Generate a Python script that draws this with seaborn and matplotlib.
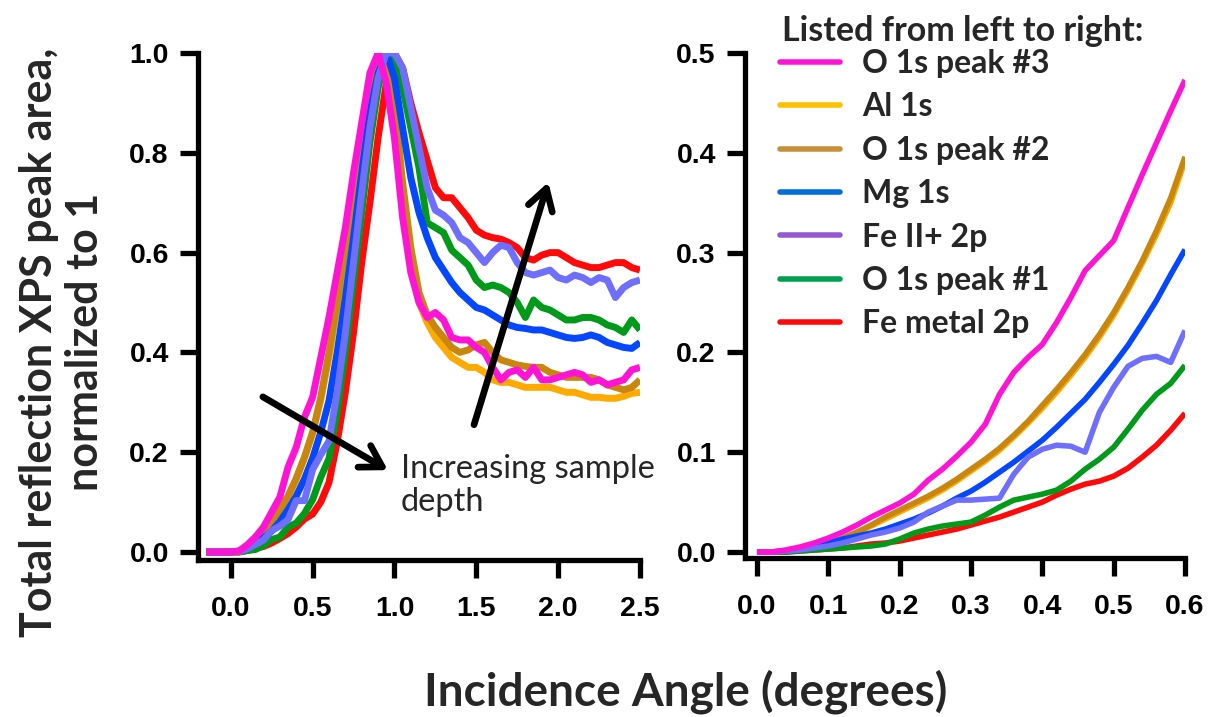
import numpy as np
import pandas as pd
import matplotlib
matplotlib.use("Agg")
import matplotlib.pyplot as plt
from matplotlib.lines import Line2D
from matplotlib.font_manager import FontProperties
import seaborn as sns

# ---------------------------------------------------------------------------
# Data: normalised total-reflection XPS peak areas vs incidence angle
# ---------------------------------------------------------------------------
series = ["O 1s peak #3", "Al 1s", "O 1s peak #2", "Mg 1s",
          "Fe II+ 2p", "O 1s peak #1", "Fe metal 2p"]

# full angular scan (degrees)
angle_full = np.round(np.linspace(-0.15, 2.50, 54), 2)

full_o1s3 = [0, 0, 0, 0, 0.002, 0.014, 0.03, 0.05, 0.08, 0.11, 0.17, 0.21, 0.27, 0.31,
             0.39, 0.47, 0.56, 0.65, 0.76, 0.86, 0.96, 1.0, 0.94, 0.83, 0.67, 0.56, 0.50,
             0.47, 0.48, 0.465, 0.43, 0.425, 0.425, 0.41, 0.40, 0.37, 0.345, 0.36, 0.365,
             0.35, 0.37, 0.345, 0.345, 0.35, 0.355, 0.36, 0.355, 0.34, 0.345, 0.335, 0.34,
             0.345, 0.365, 0.37]
full_al1s = [0, 0, 0, 0, 0.001, 0.009, 0.023, 0.041, 0.059, 0.082, 0.110, 0.145, 0.188,
             0.237, 0.305, 0.39, 0.49, 0.60, 0.71, 0.82, 0.93, 0.99, 1.0, 0.88, 0.72, 0.59,
             0.50, 0.46, 0.43, 0.41, 0.39, 0.38, 0.37, 0.37, 0.36, 0.345, 0.34, 0.34, 0.335,
             0.33, 0.33, 0.33, 0.33, 0.325, 0.32, 0.32, 0.315, 0.31, 0.31, 0.308, 0.308,
             0.312, 0.318, 0.32]
full_o1s2 = [0, 0, 0, 0, 0.001, 0.009, 0.024, 0.043, 0.061, 0.084, 0.112, 0.148, 0.19,
             0.24, 0.31, 0.40, 0.50, 0.61, 0.72, 0.83, 0.93, 0.99, 1.0, 0.90, 0.74, 0.61,
             0.52, 0.475, 0.45, 0.43, 0.41, 0.40, 0.405, 0.415, 0.42, 0.40, 0.385, 0.38,
             0.375, 0.372, 0.37, 0.37, 0.36, 0.355, 0.35, 0.35, 0.35, 0.35, 0.345, 0.335,
             0.33, 0.325, 0.33, 0.345]
full_mg1s = [0, 0, 0, 0, 0.002, 0.009, 0.018, 0.028, 0.042, 0.061, 0.085, 0.112, 0.146,
             0.188, 0.24, 0.303, 0.40, 0.51, 0.63, 0.76, 0.88, 0.96, 1.0, 0.95, 0.85, 0.75,
             0.68, 0.63, 0.59, 0.565, 0.54, 0.52, 0.505, 0.49, 0.485, 0.475, 0.465, 0.455,
             0.45, 0.448, 0.445, 0.445, 0.44, 0.435, 0.43, 0.428, 0.43, 0.435, 0.43, 0.42,
             0.415, 0.41, 0.408, 0.42]
full_fe2 = [0, 0, 0, 0, 0.001, 0.006, 0.015, 0.024, 0.043, 0.052, 0.065, 0.103, 0.103,
            0.165, 0.195, 0.222, 0.32, 0.44, 0.58, 0.72, 0.85, 0.95, 1.0, 1.0, 0.97, 0.89,
            0.81, 0.73, 0.685, 0.675, 0.66, 0.63, 0.62, 0.60, 0.58, 0.60, 0.615, 0.61,
            0.58, 0.56, 0.555, 0.56, 0.565, 0.55, 0.545, 0.555, 0.55, 0.54, 0.55, 0.545,
            0.51, 0.53, 0.54, 0.545]
full_o1s1 = [0, 0, 0, 0, 0.0, 0.003, 0.005, 0.013, 0.025, 0.030, 0.05, 0.058, 0.077,
             0.105, 0.15, 0.187, 0.28, 0.40, 0.54, 0.68, 0.82, 0.93, 1.0, 0.98, 0.93, 0.85,
             0.77, 0.66, 0.65, 0.64, 0.605, 0.59, 0.575, 0.545, 0.53, 0.535, 0.53, 0.52,
             0.50, 0.47, 0.505, 0.49, 0.485, 0.475, 0.465, 0.465, 0.47, 0.47, 0.465, 0.455,
             0.45, 0.44, 0.465, 0.445]
full_femet = [0, 0, 0, 0, 0.0, 0.003, 0.007, 0.011, 0.018, 0.027, 0.037, 0.05, 0.066,
              0.076, 0.10, 0.139, 0.22, 0.32, 0.44, 0.58, 0.70, 0.83, 0.94, 1.0, 0.97, 0.90,
              0.84, 0.785, 0.73, 0.71, 0.71, 0.69, 0.67, 0.645, 0.635, 0.63, 0.627, 0.62,
              0.61, 0.59, 0.585, 0.595, 0.60, 0.60, 0.59, 0.58, 0.575, 0.57, 0.57, 0.575,
              0.58, 0.58, 0.57, 0.565]

# fine scan below the critical angle (degrees)
angle_fine = np.round(np.linspace(0.0, 0.60, 31), 2)

fine_o1s3 = [0.000, 0.000, 0.002, 0.005, 0.009, 0.014, 0.020, 0.027, 0.035, 0.042, 0.049,
             0.058, 0.072, 0.083, 0.096, 0.110, 0.128, 0.158, 0.180, 0.195, 0.208, 0.230,
             0.255, 0.282, 0.297, 0.312, 0.345, 0.378, 0.410, 0.442, 0.473]
fine_al1s = [0.000, 0.000, 0.001, 0.003, 0.005, 0.008, 0.013, 0.019, 0.026, 0.033, 0.040,
             0.047, 0.054, 0.062, 0.071, 0.081, 0.091, 0.102, 0.115, 0.129, 0.144, 0.160,
             0.177, 0.195, 0.215, 0.237, 0.262, 0.289, 0.318, 0.350, 0.392]
fine_o1s2 = [0.000, 0.000, 0.001, 0.003, 0.006, 0.009, 0.014, 0.020, 0.027, 0.035, 0.042,
             0.049, 0.056, 0.064, 0.073, 0.083, 0.093, 0.104, 0.117, 0.131, 0.147, 0.163,
             0.180, 0.198, 0.218, 0.240, 0.265, 0.292, 0.322, 0.355, 0.396]
fine_mg1s = [0.000, 0.000, 0.001, 0.003, 0.006, 0.009, 0.013, 0.016, 0.019, 0.023, 0.028,
             0.033, 0.039, 0.046, 0.054, 0.061, 0.070, 0.080, 0.090, 0.101, 0.112, 0.125,
             0.139, 0.153, 0.170, 0.188, 0.207, 0.229, 0.252, 0.278, 0.303]
fine_fe2 = [0.000, 0.000, 0.001, 0.002, 0.004, 0.006, 0.009, 0.013, 0.017, 0.020, 0.024,
            0.030, 0.040, 0.046, 0.052, 0.052, 0.053, 0.054, 0.078, 0.095, 0.103, 0.107,
            0.106, 0.100, 0.140, 0.165, 0.186, 0.194, 0.196, 0.190, 0.222]
fine_o1s1 = [0.000, 0.000, 0.000, 0.001, 0.002, 0.003, 0.004, 0.005, 0.006, 0.008, 0.013,
             0.019, 0.023, 0.026, 0.028, 0.030, 0.037, 0.045, 0.052, 0.055, 0.058, 0.062,
             0.071, 0.083, 0.093, 0.105, 0.123, 0.142, 0.158, 0.169, 0.187]
fine_femet = [0.000, 0.000, 0.000, 0.001, 0.002, 0.003, 0.004, 0.006, 0.008, 0.009, 0.011,
              0.014, 0.017, 0.020, 0.023, 0.027, 0.031, 0.035, 0.040, 0.045, 0.050, 0.057,
              0.063, 0.068, 0.071, 0.076, 0.084, 0.095, 0.107, 0.122, 0.139]

full_values = [full_o1s3, full_al1s, full_o1s2, full_mg1s, full_fe2, full_o1s1, full_femet]
fine_values = [fine_o1s3, fine_al1s, fine_o1s2, fine_mg1s, fine_fe2, fine_o1s1, fine_femet]

# ---------------------------------------------------------------------------
# Styling
# ---------------------------------------------------------------------------
line_colors = {
    "O 1s peak #3": "#FF14D6",
    "Al 1s": "#FFAA00",
    "O 1s peak #2": "#C8860F",
    "Mg 1s": "#0546FF",
    "Fe II+ 2p": "#6F6FFF",
    "O 1s peak #1": "#009A1A",
    "Fe metal 2p": "#FF0A0A",
}
legend_colors = {
    "O 1s peak #3": "#FF14D6",
    "Al 1s": "#FFC000",
    "O 1s peak #2": "#C8903A",
    "Mg 1s": "#0070D8",
    "Fe II+ 2p": "#9558D0",
    "O 1s peak #1": "#00A050",
    "Fe metal 2p": "#FF0A0A",
}
# stacking order of the curves (first = bottom)
draw_order = ["Fe metal 2p", "O 1s peak #1", "Al 1s", "O 1s peak #2",
              "Mg 1s", "Fe II+ 2p", "O 1s peak #3"]


def long_form(angle, values):
    frames = [pd.DataFrame({"angle": angle, "area": v, "line": name})
              for name, v in zip(series, values)]
    return pd.concat(frames, ignore_index=True)


df_full = long_form(angle_full, full_values)
df_fine = long_form(angle_fine, fine_values)

sns.set_style("ticks")
plt.rcParams["font.family"] = ["Liberation Sans", "DejaVu Sans"]
plt.rcParams["font.weight"] = "bold"

W, H = 1213, 717
fig = plt.figure(figsize=(W / 100, H / 100), dpi=100)
ax1 = fig.add_axes([198 / W, (H - 560) / H, 442 / W, 507 / H])
ax2 = fig.add_axes([745 / W, (H - 558) / H, 440 / W, 505 / H])

for ax, df, lw in [(ax1, df_full, 5.0), (ax2, df_fine, 4.0)]:
    sns.lineplot(data=df, x="angle", y="area", hue="line", hue_order=draw_order,
                 palette=line_colors, linewidth=lw, legend=False, ax=ax,
                 solid_joinstyle="round", solid_capstyle="butt")
    for ln in ax.lines:
        ln.set_linewidth(lw)
    ax.set_xlabel("")
    ax.set_ylabel("")
    for side in ["top", "right"]:
        ax.spines[side].set_visible(False)
    for side in ["left", "bottom"]:
        ax.spines[side].set_linewidth(3.8)
        ax.spines[side].set_color("black")
    ax.tick_params(direction="out", length=13, width=3.8, labelsize=20.5,
                   colors="black")
    ax.tick_params(axis="x", pad=13)
    ax.tick_params(axis="y", pad=8)
    for lab in ax.get_xticklabels() + ax.get_yticklabels():
        lab.set_fontweight("bold")

ax1.set_xlim(-0.2, 2.5)
ax1.set_ylim(-0.016, 1.0)
ax1.set_xticks([0.0, 0.5, 1.0, 1.5, 2.0, 2.5])
ax1.set_yticks([0.0, 0.2, 0.4, 0.6, 0.8, 1.0])
ax1.xaxis.set_major_formatter(matplotlib.ticker.FormatStrFormatter("%.1f"))
ax1.yaxis.set_major_formatter(matplotlib.ticker.FormatStrFormatter("%.1f"))

ax2.set_xlim(-0.0168, 0.6)
ax2.set_ylim(-0.006, 0.5)
ax2.set_xticks([0.0, 0.1, 0.2, 0.3, 0.4, 0.5, 0.6])
ax2.set_yticks([0.0, 0.1, 0.2, 0.3, 0.4, 0.5])
ax2.xaxis.set_major_formatter(matplotlib.ticker.FormatStrFormatter("%.1f"))
ax2.yaxis.set_major_formatter(matplotlib.ticker.FormatStrFormatter("%.1f"))

# arrows showing the trend with sample depth
arrow_kw = dict(arrowstyle="->,head_length=0.75,head_width=0.45", lw=4.8,
                color="black", mutation_scale=20, shrinkA=0, shrinkB=0)
ax1.annotate("", xy=(0.96, 0.164), xytext=(0.196, 0.311), arrowprops=arrow_kw,
             zorder=10)
ax1.annotate("", xy=(1.94, 0.741), xytext=(1.486, 0.255), arrowprops=arrow_kw,
             zorder=10)
ax1.text(1.04, 0.134, "Increasing sample\ndepth", ha="left", va="center",
         fontsize=23.5, fontweight="normal", family=["Lato", "DejaVu Sans"],
         linespacing=1.12, zorder=11)

# axis titles
label_font = ["Lato", "DejaVu Sans"]
fig.text(0.051, 0.523, "Total reflection XPS peak area,\nnormalized to 1",
         rotation=90, ha="center", va="center", multialignment="center",
         fontsize=31, fontweight="bold", family=label_font, linespacing=1.2)
fig.text(0.565, 0.036, "Incidence Angle (degrees)", ha="center", va="center",
         fontsize=33, fontweight="bold", family=label_font)

# legend
fig.text(782 / W, 1 - 31 / H, "Listed from left to right:", ha="left", va="center",
         fontsize=24.5, fontweight="bold", family=label_font)
handles = [Line2D([], [], color=legend_colors[s], lw=4.0) for s in series]
leg = ax2.legend(handles, series, loc="upper left",
                 bbox_to_anchor=(780 / W, 1 - 49 / H), bbox_transform=fig.transFigure,
                 frameon=False,
                 prop=FontProperties(family=label_font, weight="bold", size=23),
                 handlelength=1.88, handletextpad=0.69, labelspacing=0.45,
                 borderpad=0, borderaxespad=0)

fig.savefig("out.png", dpi=100, facecolor="white")
